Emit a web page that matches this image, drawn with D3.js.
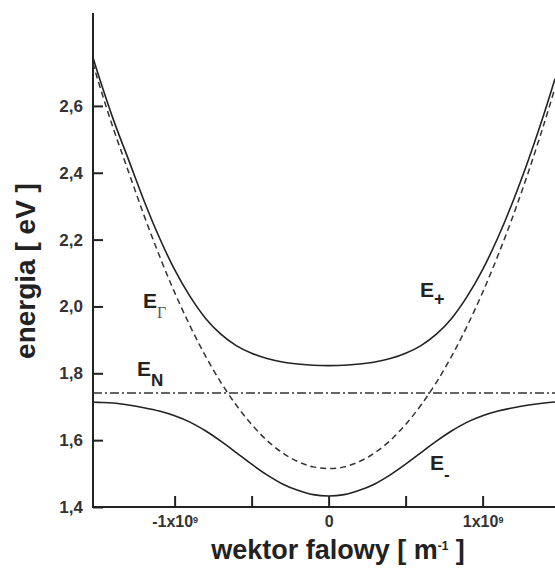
<!DOCTYPE html>
<html>
<head>
<meta charset="utf-8">
<script src="https://cdn.jsdelivr.net/npm/d3@7"></script>
<style>
  body { margin: 0; background: #fff; }
  svg { display: block; font-family: Arial, "Liberation Sans", sans-serif; }
</style>
</head>
<body>
<div class="chart"></div>
<script>
// wave vector in units of 1e9 m^-1
const kValues = [-1.53, -1.5, -1.4, -1.3, -1.2, -1.1, -1.0, -0.9, -0.8, -0.7, -0.6, -0.5, -0.4, -0.3, -0.2, -0.1,
  0, 0.1, 0.2, 0.3, 0.4, 0.5, 0.6, 0.7, 0.8, 0.9, 1.0, 1.1, 1.2, 1.3, 1.4, 1.47];
const ePlus = [2.745, 2.700, 2.562, 2.440, 2.318, 2.207, 2.110, 2.030, 1.965, 1.917, 1.883, 1.860, 1.844, 1.834, 1.828, 1.824,
  1.823, 1.824, 1.828, 1.834, 1.844, 1.860, 1.883, 1.917, 1.965, 2.030, 2.110, 2.207, 2.318, 2.442, 2.578, 2.681];
const eMinus = [1.714, 1.713, 1.711, 1.705, 1.697, 1.687, 1.673, 1.654, 1.628, 1.597, 1.563, 1.528, 1.496, 1.469, 1.450, 1.437,
  1.433, 1.437, 1.450, 1.469, 1.496, 1.528, 1.563, 1.597, 1.628, 1.654, 1.673, 1.687, 1.697, 1.705, 1.711, 1.714];
const eGamma = [2.728, 2.680, 2.535, 2.404, 2.274, 2.153, 2.042, 1.942, 1.852, 1.773, 1.705, 1.647, 1.599, 1.562, 1.536, 1.520,
  1.515, 1.520, 1.536, 1.562, 1.599, 1.647, 1.705, 1.773, 1.852, 1.942, 2.042, 2.153, 2.274, 2.406, 2.548, 2.654];
const eN = 1.741;

const yTicks = [1.4, 1.6, 1.8, 2.0, 2.2, 2.4, 2.6];
const yTickLabels = ['1,4', '1,6', '1,8', '2,0', '2,2', '2,4', '2,6'];
const xTicks = [-1, -0.5, 0, 0.5, 1];
const xTickLabels = { '-1': '-1x10', '0': '0', '1': '1x10' };

const width = 555;
const height = 574;
const plotLeft = 93, plotRight = 555, plotTop = 13, plotBottom = 507;

const x = d3.scaleLinear().domain([-1.53, 1.47]).range([plotLeft, plotRight]);
const y = d3.scaleLinear().domain([1.4, 2.878]).range([plotBottom, plotTop]);

const svg = d3.select('.chart').append('svg')
    .attr('width', width)
    .attr('height', height);

svg.append('defs').append('clipPath').attr('id', 'plot')
  .append('rect')
    .attr('x', plotLeft).attr('y', plotTop)
    .attr('width', plotRight - plotLeft).attr('height', plotBottom - plotTop);

// axes
const yAxis = d3.axisLeft(y)
    .tickValues(yTicks)
    .tickSize(-10)
    .tickPadding(10)
    .tickFormat((d, i) => yTickLabels[i]);

const yG = svg.append('g')
    .attr('transform', `translate(${plotLeft},0)`)
    .call(yAxis);
yG.select('.domain').remove();
yG.selectAll('.tick line').attr('stroke', '#222').attr('stroke-width', 2);
yG.selectAll('.tick text')
    .attr('fill', '#333')
    .style('font-size', '17px')
    .style('font-weight', 'bold')
    .style('font-family', 'Arial, "Liberation Sans", sans-serif');

const xAxis = d3.axisBottom(x)
    .tickValues(xTicks)
    .tickSize(-11)
    .tickPadding(9)
    .tickFormat(() => '');

const xG = svg.append('g')
    .attr('transform', `translate(0,${plotBottom})`)
    .call(xAxis);
xG.select('.domain').remove();
xG.selectAll('.tick line').attr('stroke', '#222').attr('stroke-width', 2);
xG.selectAll('.tick text')
    .attr('fill', '#333')
    .style('font-size', '16px')
    .style('font-weight', 'bold')
    .style('font-family', 'Arial, "Liberation Sans", sans-serif')
    .each(function(d) {
      const lbl = xTickLabels[String(d)];
      if (!lbl) return;
      const t = d3.select(this);
      t.append('tspan').text(lbl);
      if (d !== 0) {
        t.append('tspan')
          .attr('dy', '-0.5em')
          .style('font-size', '9px')
          .text('9');
      }
    });

svg.append('line')
    .attr('x1', plotLeft).attr('x2', plotLeft)
    .attr('y1', plotTop).attr('y2', plotBottom + 1)
    .attr('stroke', '#222').attr('stroke-width', 2);
svg.append('line')
    .attr('x1', plotLeft - 1).attr('x2', plotRight)
    .attr('y1', plotBottom).attr('y2', plotBottom)
    .attr('stroke', '#222').attr('stroke-width', 2);

// curves
const plot = svg.append('g').attr('clip-path', 'url(#plot)');

const line = d3.line()
    .x(d => x(d[0]))
    .y(d => y(d[1]))
    .curve(d3.curveCatmullRom);

const zipK = vals => kValues.map((k, i) => [k, vals[i]]);

plot.append('path')
    .datum(zipK(eGamma))
    .attr('d', line)
    .attr('fill', 'none')
    .attr('stroke', '#333')
    .attr('stroke-width', 1.5)
    .attr('stroke-dasharray', '6,4');

plot.append('line')
    .attr('x1', x(-1.53)).attr('x2', x(1.47))
    .attr('y1', y(eN)).attr('y2', y(eN))
    .attr('stroke', '#333')
    .attr('stroke-width', 1.4)
    .attr('stroke-dasharray', '9,3,2,3');

[ePlus, eMinus].forEach(vals => {
  plot.append('path')
      .datum(zipK(vals))
      .attr('d', line)
      .attr('fill', 'none')
      .attr('stroke', '#222')
      .attr('stroke-width', 1.6);
});

// curve labels
function bandLabel(px, py, sub, subSize, subDy, subFont) {
  const t = svg.append('text')
      .attr('x', px).attr('y', py)
      .attr('fill', '#222')
      .style('font-size', '21px')
      .style('font-weight', 'bold');
  t.append('tspan').text('E');
  const s = t.append('tspan')
      .attr('dy', subDy)
      .style('font-size', subSize + 'px')
      .text(sub);
  if (subFont) {
    s.style('font-family', subFont)
     .style('font-weight', 'normal')
     .attr('fill', '#555');
  }
}

bandLabel(420, 297, '+', 18, 8);
bandLabel(143, 308, 'Γ', 16, 10, '"Liberation Serif", "DejaVu Serif", serif');
bandLabel(137, 376, 'N', 17, 10);
bandLabel(430, 470, '-', 17, 10);

// axis titles
svg.append('text')
    .attr('transform', 'translate(35,271) rotate(-90)')
    .attr('text-anchor', 'middle')
    .attr('fill', '#222')
    .style('font-size', '28px')
    .style('font-weight', 'bold')
    .text('energia [ eV ]');

const xt = svg.append('text')
    .attr('x', 338).attr('y', 559)
    .attr('text-anchor', 'middle')
    .attr('fill', '#222')
    .style('font-size', '27px')
    .style('font-weight', 'bold');
xt.append('tspan').text('wektor falowy [ m');
xt.append('tspan').attr('dy', -9).style('font-size', '12px').text('-1');
xt.append('tspan').attr('dy', 9).text(' ]');
</script>
</body>
</html>
